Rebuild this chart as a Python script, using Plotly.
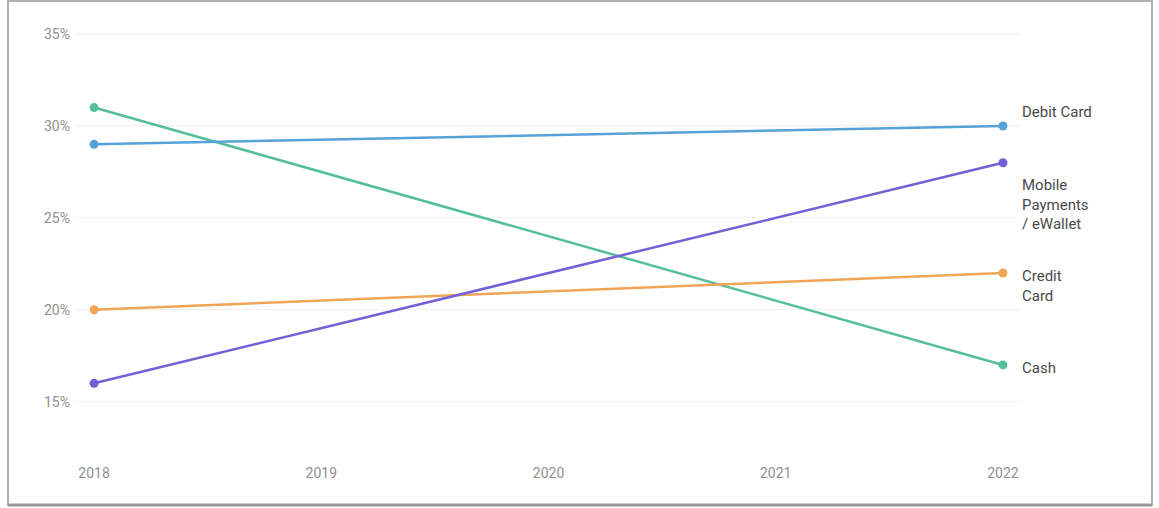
import plotly.graph_objects as go

years = [2018, 2022]
tick_years = [2018, 2019, 2020, 2021, 2022]
series_names = ["Debit Card", "Mobile Payments / eWallet", "Credit Card", "Cash"]
label_text = ["Debit Card", "Mobile<br>Payments<br>/ eWallet", "Credit<br>Card", "Cash"]
debit = [29, 30]
mobile = [16, 28]
credit = [20, 22]
cash = [31, 17]
y_ticks = [15, 20, 25, 30, 35]
y_tick_labels = ["15%", "20%", "25%", "30%", "35%"]

colors = ["#55a2d6", "#7360d6", "#f0a556", "#55be9b"]
label_shift = [14, -42, -13, -3]

W, H = 1159, 508
L, R, T, B = 75, 139, 30, 53

fig = go.Figure()
all_series = [debit, mobile, credit, cash]
for i in [3, 2, 0, 1]:
    fig.add_trace(go.Scatter(
        x=years, y=all_series[i], mode="lines+markers", name=series_names[i],
        line=dict(color=colors[i], width=2.5),
        marker=dict(color=colors[i], size=9),
        hoverinfo="skip", showlegend=False))

for i, vals in enumerate(all_series):
    fig.add_annotation(
        x=years[-1], y=vals[-1], text=label_text[i], showarrow=False,
        xanchor="left", yanchor="middle", align="left",
        xshift=17, yshift=label_shift[i],
        font=dict(family="Roboto, Arial, sans-serif", size=15, color="#4a4a4a"))

pw = W - L - R
ph = H - T - B
def px(x):
    return (x - L) / pw
def py(y):
    return (H - B - y) / ph

# screenshot frame
fig.add_shape(type="rect", xref="paper", yref="paper",
              x0=px(8), x1=px(1152), y0=py(505), y1=py(1),
              line=dict(color="#b0b0b0", width=2), fillcolor="rgba(0,0,0,0)", layer="below")
fig.add_shape(type="line", xref="paper", yref="paper",
              x0=px(8), x1=px(1152), y0=py(505), y1=py(505),
              line=dict(color="#999999", width=3), layer="below")

fig.update_layout(
    width=W, height=H,
    margin=dict(l=L, r=R, t=T, b=B),
    paper_bgcolor="white", plot_bgcolor="white",
    font=dict(family="Roboto, Arial, sans-serif", color="#9a9a9a", size=13),
    xaxis=dict(range=[2017.916, 2022.075], tickvals=tick_years,
               ticktext=[str(y) for y in tick_years],
               showgrid=False, zeroline=False, showline=False, ticks="",
               ticklabelstandoff=8,
               tickfont=dict(size=14, color="#8f8f8f")),
    yaxis=dict(range=[12.1, 35.22], tickvals=y_ticks, ticktext=y_tick_labels,
               showgrid=True, gridcolor="#f1f1f1", gridwidth=1,
               zeroline=False, showline=False, ticks="", ticklabelstandoff=4,
               tickfont=dict(size=14, color="#8f8f8f")),
)

fig.write_html("out.html")
